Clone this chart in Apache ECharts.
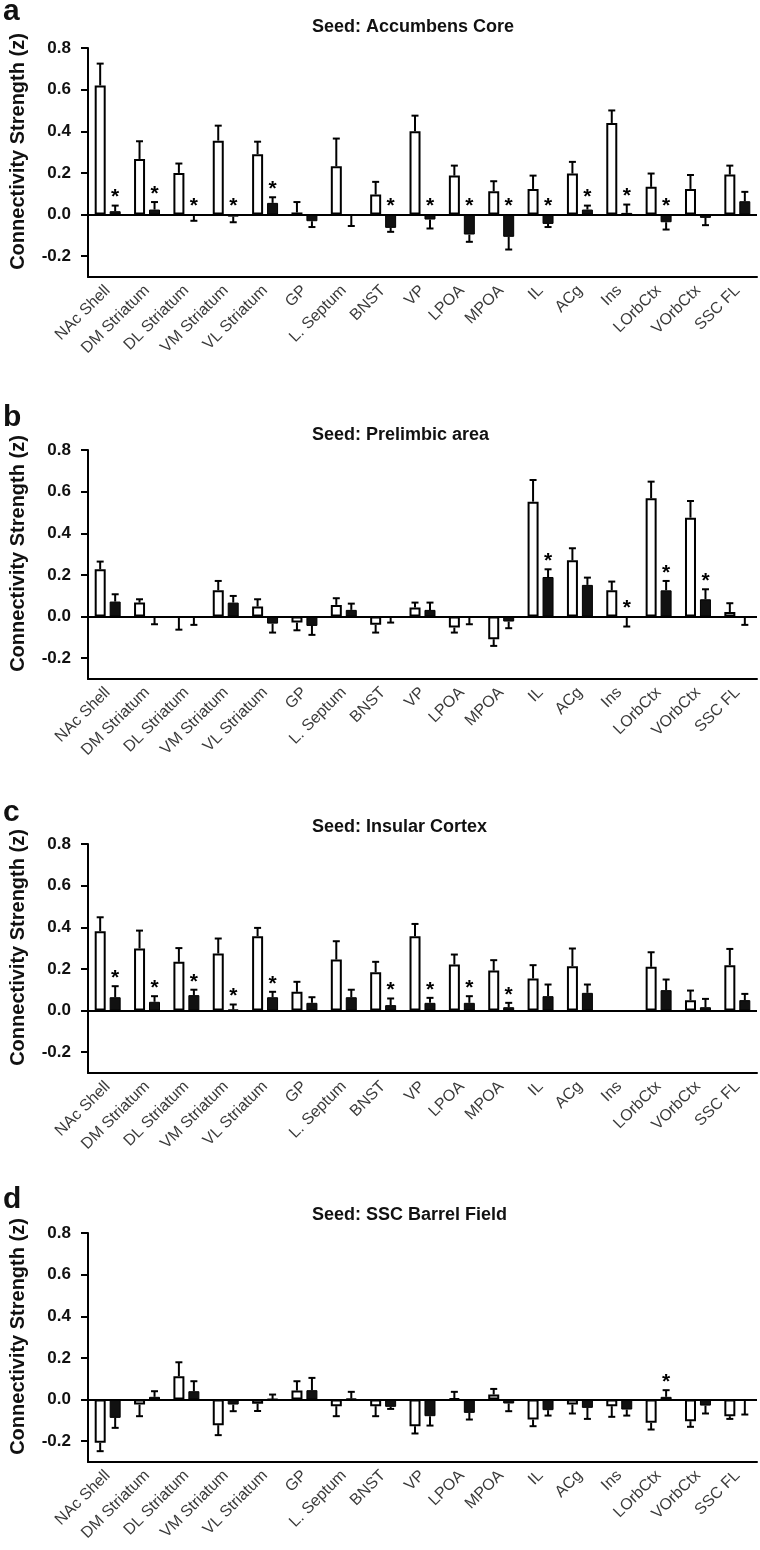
<!DOCTYPE html>
<html>
<head>
<meta charset="utf-8">
<script src="https://cdn.jsdelivr.net/npm/echarts@6/dist/echarts.min.js"></script>
<style>
  html, body { margin: 0; padding: 0; background: #fff; }
  #chart { width: 760px; height: 1550px; }
</style>
</head>
<body>
<div id="chart"></div>
<script>
var regions = ['NAc Shell', 'DM Striatum', 'DL Striatum', 'VM Striatum', 'VL Striatum', 'GP', 'L. Septum', 'BNST', 'VP', 'LPOA', 'MPOA', 'IL', 'ACg', 'Ins', 'LOrbCtx', 'VOrbCtx', 'SSC FL']
var yTicks = [-0.2, 0, 0.2, 0.4, 0.6, 0.8]

// a - seed: accumbens core
var accWhite = [0.62, 0.267, 0.2, 0.355, 0.29, 0.01, 0.232, 0.096, 0.4, 0.187, 0.112, 0.123, 0.197, 0.44, 0.133, 0.123, 0.192]
var accWhiteErr = [0.105, 0.085, 0.045, 0.072, 0.06, 0.05, 0.133, 0.061, 0.075, 0.048, 0.048, 0.064, 0.056, 0.06, 0.064, 0.067, 0.043]
var accBlack = [0.016, 0.024, -0.005, -0.01, 0.056, -0.032, -0.005, -0.064, -0.024, -0.096, -0.107, -0.045, 0.024, 0.008, -0.037, -0.016, 0.064]
var accBlackErr = [0.027, 0.036, 0.025, 0.027, 0.027, 0.028, 0.05, 0.019, 0.043, 0.035, 0.061, 0.015, 0.019, 0.04, 0.035, 0.035, 0.045]
var accStars = [0, 1, 2, 3, 4, 7, 8, 9, 10, 11, 12, 13, 14]

// b - seed: prelimbic area
var plWhite = [0.227, 0.067, -0.005, 0.126, 0.048, -0.029, 0.056, -0.04, 0.043, -0.053, -0.109, 0.552, 0.27, 0.126, 0.568, 0.475, 0.022]
var plWhiteErr = [0.037, 0.016, 0.058, 0.045, 0.035, 0.037, 0.032, 0.037, 0.024, 0.024, 0.032, 0.104, 0.058, 0.042, 0.08, 0.08, 0.042]
var plBlack = [0.072, -0.005, -0.003, 0.067, -0.034, -0.045, 0.032, -0.005, 0.032, -0.005, -0.024, 0.19, 0.152, -0.005, 0.126, 0.083, -0.005]
var plBlackErr = [0.035, 0.032, 0.037, 0.032, 0.043, 0.043, 0.03, 0.024, 0.035, 0.032, 0.032, 0.037, 0.035, 0.043, 0.045, 0.048, 0.035]
var plStars = [11, 13, 14, 15]

// c - seed: insular cortex (no Ins bars)
var insWhite = [0.381, 0.298, 0.234, 0.274, 0.357, 0.09, 0.245, 0.184, 0.357, 0.221, 0.192, 0.154, 0.213, null, 0.21, 0.05, 0.218]
var insWhiteErr = [0.067, 0.086, 0.066, 0.072, 0.04, 0.048, 0.088, 0.05, 0.059, 0.048, 0.05, 0.064, 0.085, null, 0.07, 0.046, 0.078]
var insBlack = [0.064, 0.042, 0.074, 0.005, 0.064, 0.037, 0.064, 0.026, 0.037, 0.037, 0.016, 0.069, 0.085, null, 0.098, 0.016, 0.05]
var insBlackErr = [0.053, 0.027, 0.026, 0.024, 0.026, 0.027, 0.036, 0.032, 0.024, 0.032, 0.021, 0.056, 0.04, null, 0.051, 0.04, 0.03]
var insStars = [0, 1, 2, 3, 4, 7, 8, 9, 10]

// d - seed: SSC barrel field
var sscWhite = [-0.208, -0.024, 0.112, -0.123, -0.02, 0.043, -0.032, -0.032, -0.128, 0.005, 0.024, -0.096, -0.024, -0.032, -0.112, -0.104, -0.08]
var sscWhiteErr = [0.04, 0.056, 0.067, 0.048, 0.035, 0.045, 0.048, 0.048, 0.035, 0.032, 0.027, 0.032, 0.043, 0.051, 0.032, 0.027, 0.013]
var sscBlack = [-0.088, 0.013, 0.04, -0.024, 0.003, 0.045, 0.005, -0.035, -0.08, -0.064, -0.019, -0.051, -0.04, -0.048, 0.013, -0.029, -0.005]
var sscBlackErr = [0.048, 0.027, 0.048, 0.032, 0.021, 0.059, 0.032, 0.01, 0.045, 0.032, 0.037, 0.026, 0.053, 0.029, 0.032, 0.038, 0.067]
var sscStars = [14]

var panels = [
  { letter: 'a', title: 'Seed: Accumbens Core', top: 48, letterY: 14, titleY: 27, white: accWhite, whiteErr: accWhiteErr, black: accBlack, blackErr: accBlackErr, stars: accStars },
  { letter: 'b', title: 'Seed: Prelimbic area', top: 450, letterY: 420, titleY: 435, white: plWhite, whiteErr: plWhiteErr, black: plBlack, blackErr: plBlackErr, stars: plStars },
  { letter: 'c', title: 'Seed: Insular Cortex', top: 844, letterY: 815, titleY: 827, white: insWhite, whiteErr: insWhiteErr, black: insBlack, blackErr: insBlackErr, stars: insStars },
  { letter: 'd', title: 'Seed: SSC Barrel Field', top: 1233, letterY: 1202, titleY: 1215, white: sscWhite, whiteErr: sscWhiteErr, black: sscBlack, blackErr: sscBlackErr, stars: sscStars }
]

var font = 'Liberation Sans, Arial, Helvetica, sans-serif'
var barW = 11
var shift = 7.5 // half distance between white and black bar centres

function errorBars (offset) {
  return function (params, api) {
    var v = api.value(1)
    var e = api.value(2)
    if (isNaN(v) || isNaN(e)) return
    var end = v >= 0 ? v + e : v - e
    var p0 = api.coord([api.value(0), v])
    var p1 = api.coord([api.value(0), end])
    var x = p0[0] + offset
    var st = { stroke: '#000', lineWidth: 2 }
    return {
      type: 'group',
      children: [
        { type: 'line', shape: { x1: x, y1: p0[1], x2: x, y2: p1[1] }, style: st },
        { type: 'line', shape: { x1: x - 3.5, y1: p1[1], x2: x + 3.5, y2: p1[1] }, style: st }
      ]
    }
  }
}

function starItem (params, api) {
  var p = api.coord([api.value(0), api.value(1)])
  return {
    type: 'text',
    x: p[0] + shift,
    y: p[1] - 8,
    style: { text: '*', font: 'bold 21px ' + font, fill: '#000', align: 'center', verticalAlign: 'middle' }
  }
}

var grids = [], xAxes = [], yAxes = [], series = [], graphics = []
panels.forEach(function (pn, i) {
  grids.push({ left: 86, width: 671, top: pn.top, height: 229 })
  xAxes.push({
    type: 'category',
    gridIndex: i,
    data: regions,
    axisLine: { onZero: false, lineStyle: { color: '#000', width: 2 } },
    axisTick: { alignWithLabel: true, length: 6, lineStyle: { color: '#000', width: 2 } },
    axisLabel: { rotate: 45, interval: 0, margin: 11, color: '#3a3a3a', fontSize: 16, fontFamily: font }
  })
  yAxes.push({
    type: 'value',
    gridIndex: i,
    min: -0.3,
    max: 0.8,
    name: 'Connectivity Strength (z)',
    nameLocation: 'middle',
    nameGap: 60,
    nameTextStyle: { fontSize: 20, fontWeight: 'bold', color: '#111', fontFamily: font, padding: [0, 0, 0, 22] },
    axisLine: { show: true, lineStyle: { color: '#000', width: 2 } },
    axisTick: { show: true, length: 7, customValues: yTicks, lineStyle: { color: '#000', width: 2 } },
    axisLabel: {
      customValues: yTicks,
      margin: 17,
      fontSize: 17,
      fontWeight: 'bold',
      color: '#111',
      fontFamily: font,
      formatter: function (v) { return v.toFixed(1) }
    },
    splitLine: { show: false }
  })

  series.push({
    type: 'bar',
    xAxisIndex: i,
    yAxisIndex: i,
    data: pn.white,
    barWidth: barW,
    barGap: '36%',
    itemStyle: { color: '#fff', borderColor: '#000', borderWidth: 2 },
    markLine: {
      silent: true,
      symbol: ['none', 'none'],
      label: { show: false },
      lineStyle: { color: '#000', width: 2, type: 'solid' },
      data: [{ yAxis: 0 }]
    }
  })
  series.push({
    type: 'bar',
    xAxisIndex: i,
    yAxisIndex: i,
    data: pn.black,
    barWidth: barW,
    barGap: '36%',
    itemStyle: { color: '#111', borderColor: '#000', borderWidth: 1 }
  })
  series.push({
    type: 'custom',
    xAxisIndex: i,
    yAxisIndex: i,
    renderItem: errorBars(-shift),
    encode: { x: 0, y: 1 },
    z: 3,
    data: pn.white.map(function (v, k) { return [k, v, pn.whiteErr[k]] }).filter(function (d) { return d[1] != null })
  })
  series.push({
    type: 'custom',
    xAxisIndex: i,
    yAxisIndex: i,
    renderItem: errorBars(shift),
    encode: { x: 0, y: 1 },
    z: 3,
    data: pn.black.map(function (v, k) { return [k, v, pn.blackErr[k]] }).filter(function (d) { return d[1] != null })
  })
  // star sits above the black bar's error bar, or above the zero line for negative bars
  series.push({
    type: 'custom',
    xAxisIndex: i,
    yAxisIndex: i,
    renderItem: starItem,
    encode: { x: 0, y: 1 },
    z: 4,
    data: pn.stars.map(function (k) {
      var v = pn.black[k]
      return [k, v > 0 ? v + pn.blackErr[k] : 0]
    })
  })

  graphics.push({
    type: 'text', left: 3, top: pn.letterY - 17,
    style: { text: pn.letter, font: 'bold 30px ' + font, fill: '#111' }
  })
  graphics.push({
    type: 'text', x: 312, y: pn.titleY,
    style: { text: pn.title, font: 'bold 18px ' + font, fill: '#111', align: 'left', verticalAlign: 'middle' }
  })
})

var chart = echarts.init(document.getElementById('chart'))
chart.setOption({
  animation: false,
  backgroundColor: '#fff',
  grid: grids,
  xAxis: xAxes,
  yAxis: yAxes,
  series: series,
  graphic: graphics
})
</script>
</body>
</html>
